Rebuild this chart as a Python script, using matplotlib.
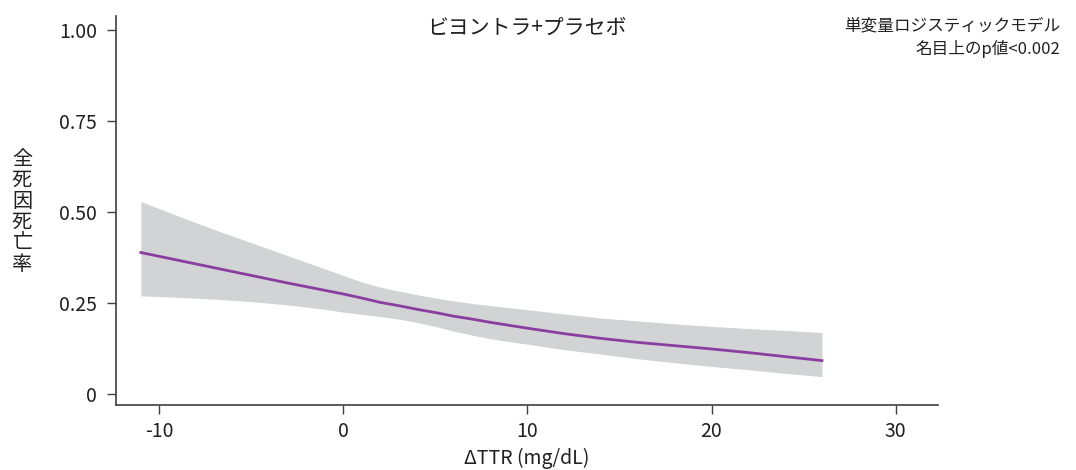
import numpy as np
import matplotlib.pyplot as plt

plt.rcParams['font.family'] = ['Noto Sans CJK JP', 'DejaVu Sans']

# data
dttr = [-11, -9, -7, -5, -3, -1, 0, 1, 2, 3, 4, 5, 6, 7, 8, 10, 12, 14, 16, 18, 20, 22, 24, 26]
prob = [0.389, 0.368, 0.347, 0.326, 0.305, 0.285, 0.275, 0.264, 0.252, 0.243, 0.233, 0.224,
        0.214, 0.206, 0.197, 0.181, 0.166, 0.153, 0.142, 0.133, 0.124, 0.114, 0.103, 0.092]
upper = [0.529, 0.490, 0.452, 0.416, 0.380, 0.344, 0.326, 0.308, 0.294, 0.283, 0.273, 0.264,
         0.256, 0.249, 0.243, 0.232, 0.220, 0.209, 0.201, 0.193, 0.186, 0.180, 0.175, 0.169]
lower = [0.270, 0.266, 0.261, 0.254, 0.245, 0.233, 0.225, 0.219, 0.213, 0.206, 0.197, 0.186,
         0.173, 0.162, 0.152, 0.137, 0.122, 0.110, 0.097, 0.086, 0.076, 0.067, 0.057, 0.048]

xticks = [-10, 0, 10, 20, 30]
yticks = [0, 0.25, 0.5, 0.75, 1.0]
ylabels = ['0', '0.25', '0.50', '0.75', '1.00']

fig = plt.figure(figsize=(10.76, 4.70), dpi=100)
ax = fig.add_axes([0.1078, 0.1383, 0.7639, 0.8277])

ax.fill_between(dttr, lower, upper, color='#d1d3d4', linewidth=0)
ax.plot(dttr, prob, color='#8a3ea0', linewidth=2)

ax.set_xlim(-12.35, 32.3)
ax.set_ylim(-0.03, 1.039)
ax.set_xticks(xticks)
ax.set_xticklabels([str(t) for t in xticks])
ax.set_yticks(yticks)
ax.set_yticklabels(ylabels)

for s in ['top', 'right']:
    ax.spines[s].set_visible(False)
for s in ['left', 'bottom']:
    ax.spines[s].set_color('#404040')
    ax.spines[s].set_linewidth(1.2)
ax.tick_params(colors='#404040', labelcolor='#231f20', labelsize=14, length=6.5, width=1)
ax.tick_params(axis='y', pad=7)
ax.tick_params(axis='x', pad=5)

ax.set_xlabel('ΔTTR (mg/dL)', fontsize=14, color='#231f20', labelpad=4.5)
fig.text(0.0204, 0.549, '\n'.join('全死因死亡率'), fontsize=14.5, color='#231f20',
         ha='center', va='center', linespacing=1.0)

ax.text(0.5, 0.969, 'ビヨントラ+プラセボ', transform=ax.transAxes, ha='center', va='center',
        fontsize=15, color='#231f20')
fig.text(0.985, 0.962, '単変量ロジスティックモデル\n名目上のp値<0.002', ha='right', va='top',
         fontsize=12, color='#231f20', linespacing=1.35)

fig.savefig('out.png', dpi=100)
